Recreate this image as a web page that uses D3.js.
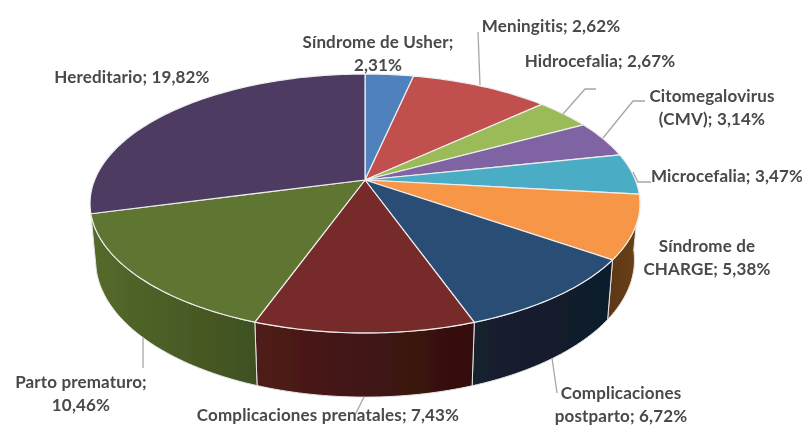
<!DOCTYPE html>
<html>
<head>
<meta charset="utf-8">
<script src="https://cdn.jsdelivr.net/npm/d3@7"></script>
<style>
  html, body { margin: 0; padding: 0; background: #fff; }
  svg { display: block; }
  text { font-family: Lato, "Open Sans", sans-serif; font-weight: 700; font-size: 17px; letter-spacing: 0.15px; fill: #484848; }
</style>
</head>
<body>
<script>
const categories = ["Síndrome de Usher", "Meningitis", "Hidrocefalia", "Citomegalovirus (CMV)", "Microcefalia",
  "Síndrome de CHARGE", "Complicaciones postparto", "Complicaciones prenatales", "Parto prematuro", "Hereditario"];

// printed percentages
const printed = ["2,31%", "2,62%", "2,67%", "3,14%", "3,47%", "5,38%", "6,72%", "7,43%", "10,46%", "19,82%"];

// wedge sizes. Same as printed, except Meningitis: its wedge in the picture
// is far bigger than the 2,62% on its label, so it is read off the wedge
const values = [2.31, 6.62, 2.67, 3.14, 3.47, 5.38, 6.72, 7.43, 10.46, 19.82];

const topColors = ["#4f81bd", "#c0504d", "#9bbb59", "#8064a2", "#4bacc6", "#f79646", "#2c4d75", "#772c2a", "#5f7530", "#4d3b62"];

// side wall gradient, left colour and right colour (only the front slices show one)
const sideColors = {
  5: ["#5c3715", "#6b4119"],
  6: ["#13202f", "#111d2b"],
  7: ["#4f1c1a", "#330f0d"],
  8: ["#546a2b", "#3f5020"]
};

// label text lines, one list per category
const labelLines = [
  ["Síndrome de Usher;", "2,31%"],
  ["Meningitis; 2,62%"],
  ["Hidrocefalia; 2,67%"],
  ["Citomegalovirus", "(CMV); 3,14%"],
  ["Microcefalia; 3,47%"],
  ["Síndrome de", "CHARGE; 5,38%"],
  ["Complicaciones", "postparto; 6,72%"],
  ["Complicaciones prenatales; 7,43%"],
  ["Parto prematuro;", "10,46%"],
  ["Hereditario; 19,82%"]
];

// layout only: where each label block sits (centre x, first baseline)
const labelAt = [[378, 48], [551, 32], [600, 67], [712, 102], [727, 182], [707, 252], [621, 399], [328, 421], [81, 388], [132, 83]];

// layout only: leader lines
const leaders = [
  [[478, 32], [480, 85]],
  [[596, 89], [585, 89], [563, 114]],
  [[645, 101], [633, 101], [603, 138]],
  [[651, 182], [638, 182], [633, 172]],
  [[552, 358], [557, 393]],
  [[364, 397], [355, 415]],
  [[143, 338], [143, 368]]
];

const width = 802;
const height = 427;

// the disc is seen in perspective: the apex sits above the middle of the ellipse
const cx = 365, cy = 180;
const radX = 270.4, radY = 125.2;
const persp = 0.1815;
const depth = 55, lowerScale = 0.98;

function project(angle, lower) {
  const u = Math.sin(angle), v = -Math.cos(angle);
  const s = 1 / (1 - persp * v);
  const k = lower ? lowerScale : 1;
  return [cx + radX * u * s * k, cy + radY * v * s * k + (lower ? depth * s : 0)];
}

function arcPoints(a0, a1, lower) {
  const n = Math.max(2, Math.ceil((a1 - a0) / 0.02));
  return d3.range(n + 1).map(i => project(a0 + (a1 - a0) * i / n, lower));
}

const pie = d3.pie().sort(null).value(d => d);
const slices = pie(values);
const line = d3.line();

const svg = d3.select("body")
  .append("svg")
  .attr("width", width)
  .attr("height", height);

const defs = svg.append("defs");
defs.append("filter")
  .attr("id", "soft")
  .attr("x", "-5%").attr("y", "-5%").attr("width", "110%").attr("height", "110%")
  .append("feGaussianBlur")
  .attr("stdDeviation", 0.45);

const chart = svg.append("g").attr("filter", "url(#soft)");

// Side walls
slices.forEach((d, i) => {
  if (!sideColors[i]) return;
  const upper = arcPoints(d.startAngle, d.endAngle, false);
  const lower = arcPoints(d.startAngle, d.endAngle, true).reverse();
  const xs = upper.concat(lower).map(p => p[0]);
  const grad = defs.append("linearGradient")
    .attr("id", "side" + i)
    .attr("gradientUnits", "userSpaceOnUse")
    .attr("x1", d3.min(xs)).attr("x2", d3.max(xs))
    .attr("y1", 0).attr("y2", 0);
  grad.append("stop").attr("offset", 0).attr("stop-color", sideColors[i][0]);
  grad.append("stop").attr("offset", 1).attr("stop-color", sideColors[i][1]);
  chart.append("path")
    .attr("d", line(upper.concat(lower)) + "Z")
    .attr("fill", "url(#side" + i + ")")
    .attr("stroke", "#e4e4e4")
    .attr("stroke-width", 1)
    .attr("stroke-linejoin", "round");
});

// Top faces
chart.selectAll(".slice")
  .data(slices)
  .enter()
  .append("path")
  .attr("class", "slice")
  .attr("d", d => line([[cx, cy]].concat(arcPoints(d.startAngle, d.endAngle, false))) + "Z")
  .attr("fill", (d, i) => topColors[i])
  .attr("stroke", "#eeeeee")
  .attr("stroke-width", 1.2)
  .attr("stroke-linejoin", "round");

// Leader lines
chart.selectAll(".leader")
  .data(leaders)
  .enter()
  .append("path")
  .attr("class", "leader")
  .attr("d", d => line(d))
  .attr("fill", "none")
  .attr("stroke", "#a6a6a6")
  .attr("stroke-width", 1.3);

// Labels
const labels = chart.selectAll(".label")
  .data(labelLines)
  .enter()
  .append("text")
  .attr("class", "label")
  .attr("text-anchor", "middle");

labels.selectAll("tspan")
  .data((d, i) => d.map((t, j) => ({ t: t, j: j, at: labelAt[i] })))
  .enter()
  .append("tspan")
  .attr("x", d => d.at[0])
  .attr("y", d => d.at[1] + d.j * 23)
  .text(d => d.t);
</script>
</body>
</html>
